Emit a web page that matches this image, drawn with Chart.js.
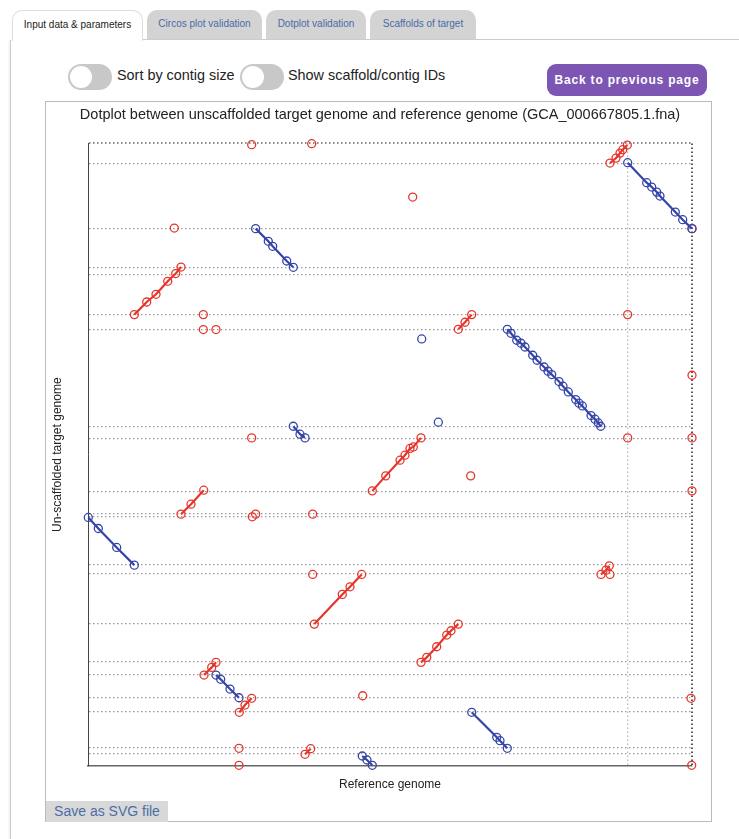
<!DOCTYPE html>
<html>
<head>
<meta charset="utf-8">
<script src="https://cdn.jsdelivr.net/npm/chart.js@4"></script>
<style>
  body { margin: 0; background: #fff; font-family: "Liberation Sans", Arial, sans-serif; width: 739px; height: 839px; overflow: hidden; position: relative; }
  .tab { position: absolute; top: 10px; height: 30px; box-sizing: border-box; font-size: 10px; line-height: 28px; text-align: center; border-radius: 10px 10px 0 0; }
  .tab.active { background: #fff; color: #222; border: 1px solid #ddd; border-bottom: none; height: 31px; }
  .tab.off { background: #d3d3d3; color: #4a6aa8; }
  .tabline { position: absolute; left: 143px; right: 0; top: 39px; border-top: 1px solid #ccc; }
  .leftline { position: absolute; left: 10px; top: 40px; bottom: 0; border-left: 1px solid #ccc; box-shadow: -1px 0 2px #e4e4e4; }
  .toggle { position: absolute; top: 64px; width: 44px; height: 26px; border-radius: 13px; background: #c8c8c8; }
  .toggle::after { content: ""; position: absolute; left: 2px; top: 2px; width: 22px; height: 22px; border-radius: 11px; background: #fff; }
  .label { position: absolute; top: 66px; font-size: 14.4px; color: #222; line-height: 18px; }
  .back { position: absolute; left: 547px; top: 64px; width: 160px; height: 32px; border-radius: 9px; background: #7d56b3; color: #fff; font-weight: bold; font-size: 12px; letter-spacing: 0.8px; line-height: 32px; text-align: center; }
  .panel { position: absolute; left: 45px; top: 101px; width: 667px; height: 721px; box-sizing: border-box; border: 1px solid #bbb; }
  #plot { position: absolute; left: 46px; top: 102px; }
  .save { position: absolute; left: 46px; top: 801px; width: 122px; height: 21px; background: #d8d8d8; color: #4b6ea5; font-size: 14px; line-height: 21px; text-align: center; }
</style>
</head>
<body>
<div class="tab active" style="left:12px;width:131px;">Input data &amp; parameters</div>
<div class="tab off" style="left:147px;width:115px;">Circos plot validation</div>
<div class="tab off" style="left:266px;width:100px;">Dotplot validation</div>
<div class="tab off" style="left:370px;width:106px;">Scaffolds of target</div>
<div class="tabline"></div>
<div class="leftline"></div>
<div class="toggle" style="left:68px;"></div>
<div class="label" style="left:117px;">Sort by contig size</div>
<div class="toggle" style="left:240px;"></div>
<div class="label" style="left:288px;">Show scaffold/contig IDs</div>
<div class="back">Back to previous page</div>
<div class="panel"></div>
<canvas id="plot" width="668" height="694"></canvas>
<div class="save">Save as SVG file</div>
<script>
// contig boundaries on the target axis, and reference boundaries
var yBoundaries = [0, 1.93, 2.89, 8.67, 10.91, 14.61, 16.69, 22.79, 30.82, 32.26, 39.97, 40.61,
    44.14, 52.65, 54.57, 70.14, 72.55, 78.97, 80.10, 86.36, 96.79, 100];
var xBoundaries = [0, 89.4, 100];

// forward alignments (red), each a chain of anchors [ref, target]
var redSegments = [
    [[86.42, 96.84], [87.42, 97.64], [88.08, 98.44], [88.53, 98.99], [89.29, 99.73]],
    [[7.67, 72.50], [9.72, 74.53], [11.26, 75.76], [13.20, 77.85], [14.52, 79.09], [15.40, 80.14]],
    [[61.31, 70.14], [62.42, 71.27], [63.53, 72.50]],
    [[47.07, 44.19], [49.29, 46.60], [51.66, 49.12], [52.48, 49.92], [53.31, 51.00], [53.86, 51.25], [55.13, 52.70]],
    [[15.40, 40.45], [17.05, 42.05], [19.16, 44.30]],
    [[37.47, 22.79], [42.10, 27.56], [43.38, 28.78], [45.31, 30.77]],
    [[84.93, 30.77], [85.76, 31.46], [86.31, 32.15]],
    [[55.13, 16.65], [56.08, 17.45], [57.73, 19.15], [59.39, 21.03], [60.10, 21.72], [61.31, 22.79]],
    [[19.21, 14.61], [20.48, 15.84], [21.19, 16.65]],
    [[25.05, 8.62], [25.99, 9.79], [27.10, 10.87]],
    [[35.93, 1.88], [36.87, 2.78]]
];
var redSingles = [
    [27.10, 99.79], [37.04, 99.95], [14.29, 86.40], [19.09, 72.50], [19.09, 70.10], [21.19, 70.10],
    [53.76, 91.38], [89.35, 72.50], [100, 86.31], [100, 62.76], [100, 52.70], [100, 44.19],
    [89.35, 52.70], [63.36, 46.60], [27.10, 52.70], [27.20, 40.02], [27.76, 40.45], [37.20, 40.45],
    [37.20, 30.77], [86.42, 30.77], [45.48, 11.28], [25.00, 2.84], [25.00, 0.11], [99.83, 10.87], [99.95, 0.11]
];

// reverse alignments (blue)
var blueSegments = [
    [[27.76, 86.31], [29.85, 84.27], [30.58, 83.47], [32.90, 81.11], [33.99, 80.10]],
    [[89.35, 96.90], [92.50, 93.69], [93.33, 92.99], [94.16, 92.18], [94.70, 91.54], [97.24, 88.97], [98.46, 87.75], [100, 86.31]],
    [[69.42, 70.14], [70.03, 69.50], [70.98, 68.38], [71.69, 67.90], [72.35, 67.30], [73.63, 65.97], [74.34, 65.17],
     [75.50, 64.09], [76.16, 63.40], [76.77, 62.87], [77.98, 61.75], [78.64, 61.00], [79.52, 60.08], [80.75, 58.86],
     [81.29, 58.27], [81.84, 57.83], [83.28, 56.29], [83.94, 55.70], [84.49, 55.10], [84.88, 54.57]],
    [[33.99, 54.57], [35.10, 53.29], [35.93, 52.70]],
    [[0.05, 39.92], [1.71, 38.15], [4.75, 35.10], [7.67, 32.26]],
    [[21.19, 14.61], [21.97, 13.92], [23.51, 12.36], [25.00, 10.96]],
    [[63.53, 8.62], [67.67, 4.61], [68.21, 4.06], [69.42, 2.84]],
    [[45.41, 1.61], [46.19, 0.96], [47.07, 0.11]]
];
var blueSingles = [[58.00, 55.22], [55.25, 68.59]];

var RED = '#e5362c';
var BLUE = '#3444a8';

function pts(list) {
    return list.map(function (p) { return {x: p[0], y: p[1]}; });
}

var datasets = [];
redSegments.forEach(function (s) {
    datasets.push({data: pts(s), showLine: true, borderColor: RED, borderWidth: 2.2,
        pointBorderColor: RED, pointBackgroundColor: 'rgba(0,0,0,0)', pointRadius: 4, pointBorderWidth: 1.3, clip: false});
});
blueSegments.forEach(function (s) {
    datasets.push({data: pts(s), showLine: true, borderColor: BLUE, borderWidth: 2.2,
        pointBorderColor: BLUE, pointBackgroundColor: 'rgba(0,0,0,0)', pointRadius: 4, pointBorderWidth: 1.3, clip: false});
});
datasets.push({data: pts(redSingles), showLine: false, pointBorderColor: RED,
    pointBackgroundColor: 'rgba(0,0,0,0)', pointRadius: 4, pointBorderWidth: 1.3, clip: false});
datasets.push({data: pts(blueSingles), showLine: false, pointBorderColor: BLUE,
    pointBackgroundColor: 'rgba(0,0,0,0)', pointRadius: 4, pointBorderWidth: 1.3, clip: false});

var ctx = document.getElementById('plot').getContext('2d');
var chart = new Chart(ctx, {
    type: 'scatter',
    data: { datasets: datasets },
    options: {
        responsive: false,
        animation: false,
        devicePixelRatio: 1,
        layout: { padding: 0 },
        plugins: {
            legend: { display: false },
            tooltip: { enabled: false },
            title: {
                display: true,
                text: 'Dotplot between unscaffolded target genome and reference genome (GCA_000667805.1.fna)',
                color: '#222',
                font: { family: '"Liberation Sans", Arial, sans-serif', size: 14.5, weight: 'normal' },
                padding: { top: 4, bottom: 20 }
            }
        },
        scales: {
            x: {
                type: 'linear', min: 0, max: 100,
                afterBuildTicks: function (axis) { axis.ticks = xBoundaries.map(function (v) { return {value: v}; }); },
                afterFit: function (scale) { scale.height = 30; },
                ticks: { display: false },
                grid: {
                    drawTicks: false,
                    color: function (c) {
                        var v = c.tick ? c.tick.value : 0;
                        if (v === 0) return 'rgba(0,0,0,0)';
                        return v === 100 ? '#555' : '#bbb';
                    },
                    lineWidth: function (c) { return c.tick && c.tick.value === 100 ? 2 : 1.3; }
                },
                border: { display: true, color: '#666', width: 1.5, dash: [1.5, 2.5] },
                title: {
                    display: true, text: 'Reference genome', color: '#222',
                    font: { family: '"Liberation Sans", Arial, sans-serif', size: 12 },
                    padding: { top: 4, bottom: 4 }
                }
            },
            y: {
                type: 'linear', min: 0, max: 100,
                afterBuildTicks: function (axis) { axis.ticks = yBoundaries.map(function (v) { return {value: v}; }); },
                afterFit: function (scale) { scale.width = 42; },
                ticks: { display: false },
                grid: {
                    drawTicks: false,
                    color: function (c) {
                        var v = c.tick ? c.tick.value : 0;
                        if (v === 0) return 'rgba(0,0,0,0)';
                        return v === 100 ? '#888' : '#9a9a9a';
                    },
                    lineWidth: function (c) { return c.tick && c.tick.value === 100 ? 2 : 1.3; }
                },
                border: { display: true, color: '#444', width: 1, dash: [1.5, 2.5] },
                title: {
                    display: true, text: 'Un-scaffolded target genome', color: '#222',
                    font: { family: '"Liberation Sans", Arial, sans-serif', size: 12 },
                    padding: { top: 4, bottom: 4 }
                }
            },
            // empty right-hand axis that only keeps the right margin
            yRight: {
                type: 'linear', position: 'right', min: 0, max: 100,
                afterFit: function (scale) { scale.width = 22; },
                ticks: { display: false },
                grid: { display: false, drawTicks: false },
                border: { display: false }
            }
        }
    }
});
</script>
</body>
</html>
